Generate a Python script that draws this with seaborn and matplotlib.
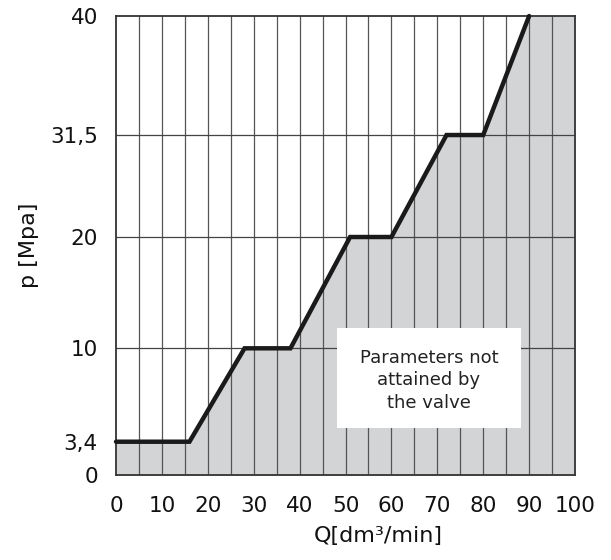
import numpy as np
import matplotlib
matplotlib.use('Agg')
import matplotlib.pyplot as plt
import matplotlib.patches as mpatches
import seaborn as sns
import pandas as pd

# valve characteristic
flow = [0, 16, 28, 38, 51, 60, 72, 80, 90]
pressure = [3.4, 3.4, 10, 10, 20, 20, 31.5, 31.5, 40]

p_ticks = [0, 3.4, 10, 20, 31.5, 40]
p_labels = ['0', '3,4', '10', '20', '31,5', '40']
q_ticks = [0, 10, 20, 30, 40, 50, 60, 70, 80, 90, 100]
q_labels = [str(q) for q in q_ticks]
q_grid = list(range(5, 100, 5))
p_grid = [10, 20, 31.5]

note = 'Parameters not\nattained by\nthe valve'

# the p axis of the original is not linear: piecewise scale
p_pos = [0, 0.0725, 0.276, 0.5185, 0.7407, 1.0]
def fwd(v):
    return np.interp(v, p_ticks, p_pos)
def inv(v):
    return np.interp(v, p_pos, p_ticks)

df = pd.DataFrame({'Q': flow, 'p': pressure})
fill_q = flow + [100]
fill_p = pressure + [40]

sns.set_style('white')
plt.rcParams['font.family'] = ['DejaVu Sans']
fuente = 15.5

fig = plt.figure(figsize=(6.11, 5.60), dpi=100)
ax = fig.add_axes([0.1899, 0.1518, 0.7512, 0.8196])
ax.set_yscale('function', functions=(fwd, inv))

ax.fill_between(fill_q, fill_p, 0, color='#d3d4d6', lw=0, zorder=1)
for q in q_grid:
    ax.axvline(q, color='#555555', lw=0.9, zorder=2)
for p in p_grid:
    ax.axhline(p, color='#444444', lw=0.9, zorder=2)

ax.add_patch(mpatches.Rectangle((0.4815, 0.1024), 0.401, 0.218,
                                transform=ax.transAxes, facecolor='white',
                                edgecolor='none', zorder=3))
ax.text(0.682, 0.206, note, transform=ax.transAxes, ha='center', va='center',
        fontsize=13, linespacing=1.35, color='#222222', zorder=4)

sns.lineplot(x='Q', y='p', data=df, color='#1a1a1a', linewidth=3.2,
             sort=False, ax=ax, zorder=5)
ax.lines[-1].set_solid_joinstyle('miter')
ax.lines[-1].set_clip_on(False)

ax.set_xlim(0, 100)
ax.set_ylim(0, 40)
ax.set_xticks(q_ticks)
ax.set_xticklabels(q_labels, fontsize=fuente)
ax.set_yticks(p_ticks)
ax.set_yticklabels(p_labels, fontsize=fuente)
ax.tick_params(axis='both', length=0, colors='#111111')
ax.tick_params(axis='x', pad=15)
ax.tick_params(axis='y', pad=13)

for s in ax.spines.values():
    s.set_color('#333333')
    s.set_linewidth(1.3)

ax.set_xlabel('Q[dm³/min]', fontsize=16, color='#111111')
ax.set_ylabel('p [Mpa]', fontsize=16, color='#111111')
ax.xaxis.set_label_coords(0.571, -0.112)
ax.yaxis.set_label_coords(-0.168, 0.5)

plt.savefig('out.png', dpi=100)
